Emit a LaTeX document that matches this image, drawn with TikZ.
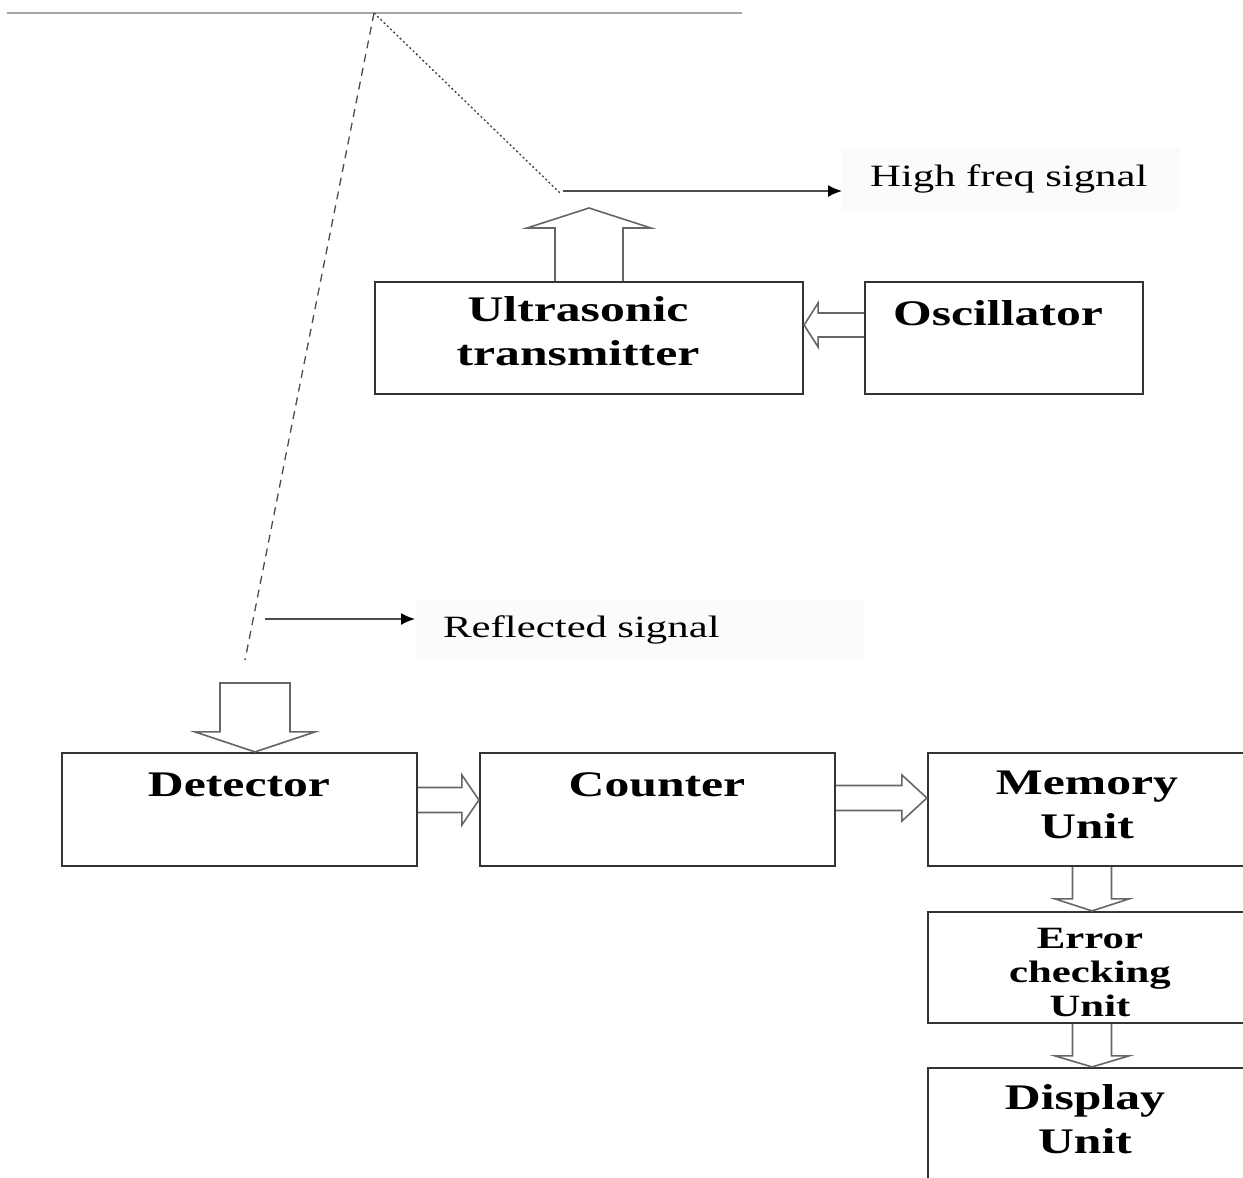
\documentclass[tikz,border=0pt]{standalone}
\usepackage{fontspec}
\setmainfont{Liberation Serif}[FakeStretch=1.38]
\usetikzlibrary{calc,arrows.meta}
\begin{document}
\begin{tikzpicture}[x=1pt,y=-1pt,
 box/.style={draw=black!80, line width=2.2pt, inner sep=0pt},
 blab/.style={font=\fontsize{36}{44}\selectfont\bfseries, align=center, inner sep=0pt},
 slab/.style={font=\fontsize{31}{34}\selectfont\bfseries, align=center, inner sep=0pt},
 sig/.style={font=\fontsize{31}{34}\selectfont, fill=black!1.5, align=left, anchor=west, inner xsep=28pt, inner ysep=0pt, minimum height=62pt},
 barrow/.style={draw=black!60, line width=1.6pt, fill=white, line join=miter},
 sigarrow/.style={draw=black!70, line width=1.6pt, -{Latex[length=14pt,width=12pt,color=black]}},
 dashline/.style={draw=black!70, line width=1.3pt, dash pattern=on 8pt off 6pt},
 dotline/.style={draw=black!75, line width=1.3pt, dash pattern=on 2pt off 2.5pt},
]
\useasboundingbox (0,0) rectangle (1243,1178);
\clip (0,0) rectangle (1243,1178);

% reflecting surface and beam
\coordinate (tl) at (7,13);
\coordinate (tr) at (742,13);
\coordinate (apex) at (374,13);
\coordinate (lend) at (245,660);
\coordinate (rend) at (560,193);
\draw[black!35, line width=2.5pt] (tl) -- (tr);
\draw[dashline] (apex) -- (lend);
\draw[dotline] (apex) -- (rend);

% boxes
\node[box, minimum width=428pt, minimum height=112pt] (utx) at (589,338) {};
\node[box, minimum width=278pt, minimum height=112pt] (osc) at (1004,338) {};
\node[box, minimum width=355pt, minimum height=113pt] (det) at (239.5,809.5) {};
\node[box, minimum width=355pt, minimum height=113pt] (cnt) at (657.5,809.5) {};
\node[box, minimum width=332pt, minimum height=113pt] (mem) at (1094,809.5) {};
\node[box, minimum width=332pt, minimum height=111pt] (err) at (1094,967.5) {};
\node[box, minimum width=332pt, minimum height=132pt] (disp) at (1094,1134) {};

% signal labels
\node[sig, text width=282pt] (hf) at (842,179) {High freq signal};
\node[sig, text width=394pt] (rf) at (415,630) {Reflected signal};
\coordinate (hfs) at (563,191);
\coordinate (rfs) at (265,619);
\draw[sigarrow] (hfs) -- (hf.west |- hfs);
\draw[sigarrow] (rfs) -- (rf.west |- rfs);

% block arrows
% up arrow from transmitter
\coordinate (u1) at (utx.north);
\coordinate (u2) at (589,208);
\draw[barrow] ($(u1)+(-34,0)$) -- ($(u2)+(-34,20)$) -- ($(u2)+(-62,20)$) -- (u2)
  -- ($(u2)+(62,20)$) -- ($(u2)+(34,20)$) -- ($(u1)+(34,0)$);
% oscillator -> transmitter (left)
\coordinate (r3) at (0,325);
\coordinate (o1) at (osc.west |- r3);
\coordinate (o2) at (utx.east |- r3);
\draw[barrow] ($(o1)+(0,-12)$) -- ($(o2)+(14,-12)$) -- ($(o2)+(14,-22)$) -- (o2)
  -- ($(o2)+(14,22)$) -- ($(o2)+(14,12)$) -- ($(o1)+(0,12)$);
% down arrow into detector
\coordinate (dtop) at (255,683);
\coordinate (d2) at (det.north -| dtop);
\draw[barrow] ($(dtop)+(-35,0)$) -- ($(d2)+(-35,-20)$) -- ($(d2)+(-60,-20)$) -- (d2)
  -- ($(d2)+(60,-20)$) -- ($(d2)+(35,-20)$) -- ($(dtop)+(35,0)$) -- cycle;
% detector -> counter
\coordinate (r1) at (0,800);
\coordinate (a1) at (det.east |- r1);
\coordinate (a2) at (cnt.west |- r1);
\draw[barrow] ($(a1)+(0,-12.5)$) -- ($(a2)+(-17,-12.5)$) -- ($(a2)+(-17,-25)$) -- (a2)
  -- ($(a2)+(-17,25)$) -- ($(a2)+(-17,12.5)$) -- ($(a1)+(0,12.5)$);
% counter -> memory
\coordinate (r2) at (0,798);
\coordinate (b1) at (cnt.east |- r2);
\coordinate (b2) at (mem.west |- r2);
\draw[barrow] ($(b1)+(0,-12.5)$) -- ($(b2)+(-25,-12.5)$) -- ($(b2)+(-25,-23)$) -- (b2)
  -- ($(b2)+(-25,23)$) -- ($(b2)+(-25,12.5)$) -- ($(b1)+(0,12.5)$);
% memory -> error
\coordinate (m1) at (1092,0);
\coordinate (c1) at (mem.south -| m1);
\coordinate (c2) at (err.north -| m1);
\draw[barrow] ($(c1)+(-19.5,0)$) -- ($(c2)+(-19.5,-12)$) -- ($(c2)+(-37,-12)$) -- (c2)
  -- ($(c2)+(37,-12)$) -- ($(c2)+(19.5,-12)$) -- ($(c1)+(19.5,0)$);
% error -> display
\coordinate (e1) at (err.south -| m1);
\coordinate (e2) at (disp.north -| m1);
\draw[barrow] ($(e1)+(-19.5,0)$) -- ($(e2)+(-19.5,-11)$) -- ($(e2)+(-37,-11)$) -- (e2)
  -- ($(e2)+(37,-11)$) -- ($(e2)+(19.5,-11)$) -- ($(e1)+(19.5,0)$);

% box texts
\node[blab] (utxt) at (578,331) {Ultrasonic\\transmitter};
\node[blab] (osct) at (998,313) {Oscillator};
\node[blab] (dett) at (239,785) {Detector};
\node[blab] (cntt) at (657,785) {Counter};
\node[blab] (memt) at (1087,805) {Memory\\Unit};
\node[slab] (errt) at (1090,972) {Error\\checking\\Unit};
\node[blab] (dispt) at (1085,1119) {Display\\Unit};
\end{tikzpicture}
\end{document}
